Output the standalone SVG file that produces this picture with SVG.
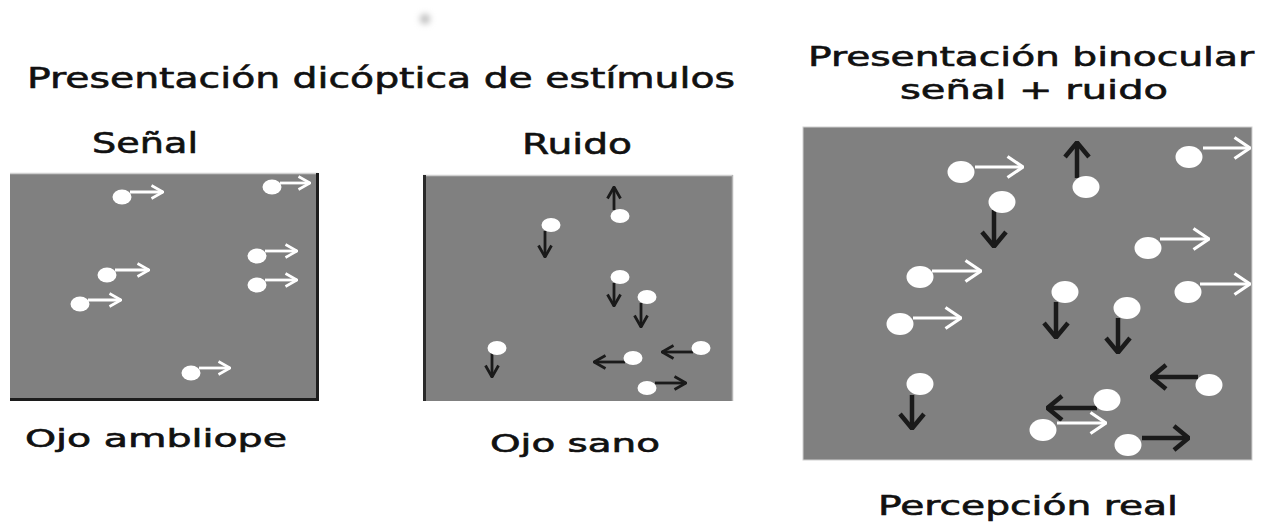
<svg xmlns="http://www.w3.org/2000/svg" width="1270" height="522" viewBox="0 0 1270 522">
<style>
text{font-family:"DejaVu Sans","Liberation Sans",sans-serif;fill:#111;stroke:#111;stroke-width:0.6;}
.panel{fill:#808080;}
.dot{fill:#fff;}
.aw{stroke:#fff;stroke-width:2.8;fill:none;}
.ak{stroke:#1a1a1a;stroke-width:2.8;fill:none;}
.awL{stroke:#fff;stroke-width:3.2;fill:none;}
.akL{stroke:#1a1a1a;stroke-width:4.5;fill:none;}
</style>
<defs>
<filter id="blur" x="-1" y="-1" width="3" height="3"><feGaussianBlur stdDeviation="3"/></filter>
<marker id="wS" viewBox="0 0 14 16" refX="13" refY="8" markerWidth="14" markerHeight="16" markerUnits="userSpaceOnUse" orient="auto"><path d="M1.5,1.5 L13,8 L1.5,14.5" fill="none" stroke="#fff" stroke-width="2.6"/></marker>
<marker id="kS" viewBox="0 0 14 16" refX="13" refY="8" markerWidth="14" markerHeight="16" markerUnits="userSpaceOnUse" orient="auto"><path d="M1.5,1.5 L13,8 L1.5,14.5" fill="none" stroke="#1a1a1a" stroke-width="2.8"/></marker>
<marker id="wL" viewBox="0 0 18 24" refX="17" refY="12" markerWidth="18" markerHeight="24" markerUnits="userSpaceOnUse" orient="auto"><path d="M1.5,1.5 L17,12 L1.5,22.5" fill="none" stroke="#fff" stroke-width="3.2"/></marker>
<marker id="kL" viewBox="0 0 18 28" refX="17" refY="14" markerWidth="18" markerHeight="28" markerUnits="userSpaceOnUse" orient="auto"><path d="M2,2 L16.5,14 L2,26" fill="none" stroke="#1a1a1a" stroke-width="4.5"/></marker>
</defs>
<rect width="1270" height="522" fill="#fff"/>
<circle cx="425" cy="19" r="5" fill="#bbb" filter="url(#blur)"/>

<g id="titles">
<text x="27" y="88" font-size="28" textLength="708" lengthAdjust="spacingAndGlyphs">Presentación dicóptica de estímulos</text>
<text x="808" y="66" font-size="26" textLength="446" lengthAdjust="spacingAndGlyphs">Presentación binocular</text>
<text x="900" y="99" font-size="26" textLength="268" lengthAdjust="spacingAndGlyphs">señal + ruido</text>
</g>

<g id="panel-senal">
<text x="92" y="153" font-size="28" textLength="106" lengthAdjust="spacingAndGlyphs">Señal</text>
<rect class="panel" x="10" y="173" width="308" height="226"/>
<line x1="10" y1="173.5" x2="318" y2="173.5" stroke="#cfcfcf" stroke-width="1.5"/>
<line x1="317.5" y1="173" x2="317.5" y2="400" stroke="#1c1c1c" stroke-width="3"/>
<line x1="10" y1="399.5" x2="319" y2="399.5" stroke="#1c1c1c" stroke-width="3"/>
<g id="arrows-senal">
<path class="aw" marker-end="url(#wS)" d="M130,192 H163"/>
<path class="aw" marker-end="url(#wS)" d="M280,183 H310"/>
<path class="aw" marker-end="url(#wS)" d="M265,251 H297"/>
<path class="aw" marker-end="url(#wS)" d="M115,270 H149"/>
<path class="aw" marker-end="url(#wS)" d="M265,280 H297"/>
<path class="aw" marker-end="url(#wS)" d="M88,300 H121"/>
<path class="aw" marker-end="url(#wS)" d="M199,368 H230"/>
</g>
<ellipse class="dot" cx="122" cy="197" rx="9.5" ry="7.5"/>
<ellipse class="dot" cx="272" cy="187" rx="9.5" ry="7.5"/>
<ellipse class="dot" cx="257" cy="256" rx="9.5" ry="7.5"/>
<ellipse class="dot" cx="107" cy="275" rx="9.5" ry="7.5"/>
<ellipse class="dot" cx="257" cy="285" rx="9.5" ry="7.5"/>
<ellipse class="dot" cx="80" cy="304" rx="9.5" ry="7.5"/>
<ellipse class="dot" cx="191" cy="373" rx="9.5" ry="7.5"/>
<text x="25" y="447" font-size="25" textLength="262" lengthAdjust="spacingAndGlyphs">Ojo ambliope</text>
</g>

<g id="panel-ruido">
<text x="522" y="154" font-size="28" textLength="110" lengthAdjust="spacingAndGlyphs">Ruido</text>
<rect class="panel" x="423" y="175" width="310" height="226"/>
<line x1="423" y1="175.5" x2="733" y2="175.5" stroke="#cfcfcf" stroke-width="1.5"/>
<line x1="732.5" y1="175" x2="732.5" y2="401" stroke="#b5b5b5" stroke-width="1.5"/>
<line x1="424.5" y1="175" x2="424.5" y2="401" stroke="#2a2a2a" stroke-width="3"/>
<g id="arrows-ruido">
<path class="ak" marker-end="url(#kS)" d="M614,210 V187"/>
<path class="ak" marker-end="url(#kS)" d="M545,231 V257"/>
<path class="ak" marker-end="url(#kS)" d="M614,283 V306"/>
<path class="ak" marker-end="url(#kS)" d="M641,303 V327"/>
<path class="ak" marker-end="url(#kS)" d="M492,353 V377"/>
<path class="ak" marker-end="url(#kS)" d="M693,352 H662"/>
<path class="ak" marker-end="url(#kS)" d="M625,362 H594"/>
<path class="ak" marker-end="url(#kS)" d="M655,383 H686"/>
</g>
<ellipse class="dot" cx="620" cy="216" rx="9.5" ry="7"/>
<ellipse class="dot" cx="551" cy="225" rx="9.5" ry="7"/>
<ellipse class="dot" cx="620" cy="277" rx="9.5" ry="7"/>
<ellipse class="dot" cx="647" cy="297" rx="9.5" ry="7"/>
<ellipse class="dot" cx="497" cy="348" rx="9.5" ry="7"/>
<ellipse class="dot" cx="701" cy="348" rx="9.5" ry="7"/>
<ellipse class="dot" cx="633" cy="358" rx="9.5" ry="7"/>
<ellipse class="dot" cx="647" cy="388" rx="9.5" ry="7"/>
<text x="490" y="452" font-size="25" textLength="170" lengthAdjust="spacingAndGlyphs">Ojo sano</text>
</g>

<g id="panel-binocular">
<rect class="panel" x="803" y="127" width="449" height="333" stroke="#d0d0d0" stroke-width="1"/>
<g id="arrows-binocular">
<path class="awL" marker-end="url(#wL)" d="M975,167 H1023"/>
<path class="akL" marker-end="url(#kL)" d="M1077,178 V142"/>
<path class="awL" marker-end="url(#wL)" d="M1203,148 H1250"/>
<path class="akL" marker-end="url(#kL)" d="M994,210 V247"/>
<path class="awL" marker-end="url(#wL)" d="M1160,239 H1209"/>
<path class="awL" marker-end="url(#wL)" d="M932,271 H981"/>
<path class="awL" marker-end="url(#wL)" d="M1200,284 H1250"/>
<path class="akL" marker-end="url(#kL)" d="M1056,302 V338"/>
<path class="akL" marker-end="url(#kL)" d="M1118,318 V353"/>
<path class="awL" marker-end="url(#wL)" d="M913,318 H961"/>
<path class="akL" marker-end="url(#kL)" d="M912,395 V429"/>
<path class="akL" marker-end="url(#kL)" d="M1198,377 H1151"/>
<path class="akL" marker-end="url(#kL)" d="M1097,408 H1047"/>
<path class="awL" marker-end="url(#wL)" d="M1057,423 H1106"/>
<path class="akL" marker-end="url(#kL)" d="M1142,438 H1189"/>
</g>
<ellipse class="dot" cx="961" cy="172" rx="13.5" ry="11"/>
<ellipse class="dot" cx="1086" cy="187" rx="13.5" ry="11"/>
<ellipse class="dot" cx="1189" cy="157" rx="13.5" ry="11"/>
<ellipse class="dot" cx="1002" cy="202" rx="13.5" ry="11"/>
<ellipse class="dot" cx="1148" cy="248" rx="13.5" ry="11"/>
<ellipse class="dot" cx="920" cy="277" rx="13.5" ry="11"/>
<ellipse class="dot" cx="1188" cy="292" rx="13.5" ry="11"/>
<ellipse class="dot" cx="1065" cy="292" rx="13.5" ry="11"/>
<ellipse class="dot" cx="1127" cy="308" rx="13.5" ry="11"/>
<ellipse class="dot" cx="900" cy="324" rx="13.5" ry="11"/>
<ellipse class="dot" cx="920" cy="384" rx="13.5" ry="11"/>
<ellipse class="dot" cx="1209" cy="385" rx="13.5" ry="11"/>
<ellipse class="dot" cx="1107" cy="400" rx="13.5" ry="11"/>
<ellipse class="dot" cx="1043" cy="430" rx="13.5" ry="11"/>
<ellipse class="dot" cx="1128" cy="445" rx="13.5" ry="11"/>
<text x="878" y="515" font-size="26" textLength="300" lengthAdjust="spacingAndGlyphs">Percepción real</text>
</g>
</svg>
